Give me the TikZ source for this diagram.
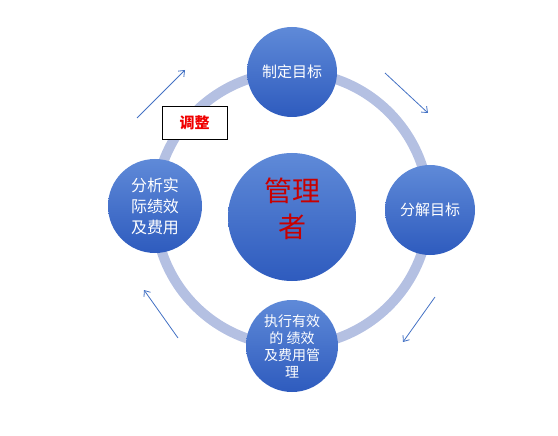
\documentclass[tikz,border=0pt]{standalone}
\usepackage{fontspec}
\newfontfamily\cjk{Noto Sans CJK SC}
\usetikzlibrary{arrows.meta}
\definecolor{ringc}{HTML}{B4C0E2}
\definecolor{topc}{HTML}{5F8AD8}
\definecolor{botc}{HTML}{2E5BBE}
\definecolor{arrc}{HTML}{4472C4}
\tikzset{
  ball/.style={circle, top color=topc, bottom color=botc, draw=none, text=white,
    align=center, font=\cjk\fontsize{15}{20}\selectfont, inner sep=0pt},
  cyc/.style={draw=arrc, line width=0.8pt, -{Straight Barb[length=5pt,width=8pt]}}
}
\begin{document}
\begin{tikzpicture}[x=1pt,y=-1pt]
\useasboundingbox (0,0) rectangle (558,436);
\node[circle, draw=ringc, line width=10pt, minimum size=274pt, inner sep=0pt] (ring) at (292,209) {};
\node[ball, minimum size=128pt] (mgr) at (292,217) {};
\node[text={rgb,255:red,200;green,0;blue,0}, align=center, font=\cjk\fontsize{28}{36}\selectfont] (mgrtxt) at (292,209) {管理\\者};
\node[ball, minimum size=90pt] (top) at (292,72) {制定目标};
\node[ball, minimum size=90pt] (right) at (430,210) {分解目标};
\node[ball, minimum size=92pt, font=\cjk\fontsize{14}{17}\selectfont] (bot) at (292,346) {执行有效\\的 绩效\\及费用管\\理};
\node[ball, minimum size=94pt, font=\cjk\fontsize{16}{21}\selectfont] (left) at (155,206) {分析实\\际绩效\\及费用};
\node[draw=black, line width=0.6pt, fill=white, minimum width=65pt, minimum height=33pt, inner sep=0pt,
  text={rgb,255:red,240;green,0;blue,0}, font=\cjk\bfseries\fontsize{15}{17}\selectfont] (adj) at (194.5,122.5) {调整};
\coordinate (a1s) at (137,118); \coordinate (a1e) at (185,70);
\coordinate (a2s) at (385,73); \coordinate (a2e) at (428,113);
\coordinate (a3s) at (435,297); \coordinate (a3e) at (403,342);
\coordinate (a4s) at (178,338); \coordinate (a4e) at (144,290);
\draw[cyc] (a1s) -- (a1e);
\draw[cyc] (a2s) -- (a2e);
\draw[cyc] (a3s) -- (a3e);
\draw[cyc] (a4s) -- (a4e);
\end{tikzpicture}
\end{document}
